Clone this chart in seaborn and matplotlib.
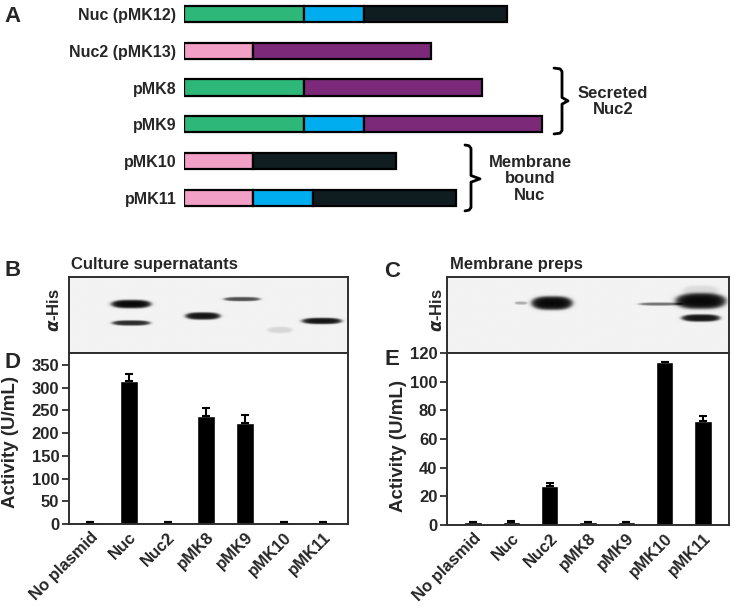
import numpy as np
import pandas as pd
import matplotlib
matplotlib.use("Agg")
import matplotlib.pyplot as plt
import seaborn as sns

# ---------------- data ----------------
# Panel A: construct maps (domain lengths in arbitrary units)
constructs = ["Nuc (pMK12)", "Nuc2 (pMK13)", "pMK8", "pMK9", "pMK10", "pMK11"]
construct_domains = [["ss", "pro", "nuc"], ["lipo", "nuc2"], ["ss", "nuc2"],
                     ["ss", "pro", "nuc2"], ["lipo", "nuc"], ["lipo", "pro", "nuc"]]
domain_names = ["ss", "pro", "nuc", "nuc2", "lipo"]
domain_lengths = [120, 60, 143, 178, 69]
domain_colors = ["#2db778", "#00aeef", "#0f1d20", "#7b2978", "#f2a0c6"]

group_labels = ["Secreted\nNuc2", "Membrane\nbound\nNuc"]
group_row_span = [(1.47, 2.36, 3.26), (3.56, 4.48, 5.35)]   # top, middle, bottom (rows)
group_brace_x = [(370, 378, 384), (281, 287, 296)]          # hook, spine, tip
group_text_pos = [(429, 2.38), (346, 4.48)]

# Panels D/E: activities
samples = ["No plasmid", "Nuc", "Nuc2", "pMK8", "pMK9", "pMK10", "pMK11"]
sup_activity = [5, 315, 5, 238, 223, 5, 5]
sup_err = [0, 14, 0, 17, 17, 0, 0]
mem_activity = [2.0, 2.3, 27.4, 2.2, 2.1, 113.5, 72.8]
mem_err = [0, 0.3, 1.6, 0, 0, 0.5, 3.5]

# Panels B/C: western blot bands (lane position, depth in blot px, half width, thickness, intensity)
sup_band_lane = [1.06, 1.06, 2.91, 3.92, 4.90, 5.98]
sup_band_y = [27, 46, 39, 22, 53, 44]
sup_band_hw = [0.50, 0.48, 0.44, 0.46, 0.32, 0.50]
sup_band_thick = [8, 5, 7, 4, 6, 6]
sup_band_int = [1.0, 0.85, 0.95, 0.7, 0.12, 0.95]

mem_band_lane = [1.25, 2.06, 4.88, 5.95, 5.95, 5.95]
mem_band_y = [26, 26, 27, 24, 13, 41]
mem_band_hw = [0.16, 0.52, 0.54, 0.64, 0.45, 0.49]
mem_band_thick = [3, 13, 3, 15, 9, 7]
mem_band_int = [0.3, 1.0, 0.55, 1.0, 0.1, 0.95]

# ---------------- style ----------------
sns.set_style("ticks")
plt.rcParams["font.family"] = ["Liberation Sans", "DejaVu Sans"]
plt.rcParams["font.weight"] = "bold"
plt.rcParams["axes.labelweight"] = "bold"

W, H = 734, 607
fig = plt.figure(figsize=(W / 100, H / 100), dpi=100)


def fpos(x0, y0, x1, y1):
    return [x0 / W, 1 - y1 / H, (x1 - x0) / W, (y1 - y0) / H]


def ftext(x, y, s, **kw):
    fig.text(x / W, 1 - y / H, s, **kw)


FRAME = "#2e2e2e"

# ---------------- Panel A ----------------
axA = fig.add_axes(fpos(184, 0, 734, 216.4))
dom_len = dict(zip(domain_names, domain_lengths))
dom_col = dict(zip(domain_names, domain_colors))
for r, doms in enumerate(construct_domains):
    left = 0
    for d in doms:
        axA.barh(r, dom_len[d], left=left, height=0.44, color=dom_col[d],
                 edgecolor="black", linewidth=1.6)
        left += dom_len[d]
axA.set_xlim(0, 550)
axA.set_ylim(5.5, -0.38)
axA.set_yticks(range(len(constructs)))
axA.set_yticklabels(constructs, fontsize=11.5, fontweight="bold")
axA.tick_params(axis="y", length=0, pad=5.5)
axA.set_xticks([])
for s in axA.spines.values():
    s.set_visible(False)
axA.patch.set_alpha(0)

for (top, mid, bot), (hx, vx, tx), lab, (lx, ly) in zip(group_row_span, group_brace_x,
                                                        group_labels, group_text_pos):
    d = 0.09
    xs = [hx, vx - 2, vx, vx, tx, vx, vx, vx - 2, hx]
    ys = [top, top + 0.02, top + d, mid - d, mid, mid + d, bot - d, bot - 0.02, bot]
    axA.plot(xs, ys, color="black", lw=2.0, solid_joinstyle="round", clip_on=False)
    axA.text(lx, ly, lab, ha="center", va="center", fontsize=12, fontweight="bold",
             linespacing=1.1)

ftext(4, 22, "A", fontsize=16, fontweight="bold")


# ---------------- blots ----------------
def draw_blot(ax, xlim, lanes, ys, hws, thicks, ints):
    xs = np.linspace(xlim[0], xlim[1], 700)
    yy = np.linspace(0, 76, 200)
    X, Y = np.meshgrid(xs, yy)
    dark = np.zeros_like(X)
    for c, yc, hw, t, a in zip(lanes, ys, hws, thicks, ints):
        dx = (X - c) / hw
        dy = (Y - yc) / (t / 2)
        dd = np.abs(dx) ** 3 + dy ** 2
        dark += a / (1 + np.exp((dd - 1) / 0.25))
    img = 0.95 - 0.93 * np.clip(dark, 0, 1)
    ax.imshow(img, cmap="gray", vmin=0, vmax=1, extent=[xlim[0], xlim[1], 76, 0],
              aspect="auto", interpolation="bilinear")
    ax.set_xlim(*xlim)
    ax.set_ylim(76, 0)
    ax.set_xticks([])
    ax.set_yticks([])
    for s in ax.spines.values():
        s.set_color(FRAME)
        s.set_linewidth(1.4)


xlimD = (-0.54, 6.65)
xlimE = (-0.68, 6.68)

axB = fig.add_axes(fpos(69, 277, 348, 353))
draw_blot(axB, xlimD, sup_band_lane, sup_band_y, sup_band_hw, sup_band_thick, sup_band_int)
axC = fig.add_axes(fpos(447, 277, 729, 353))
draw_blot(axC, xlimE, mem_band_lane, mem_band_y, mem_band_hw, mem_band_thick, mem_band_int)


# ---------------- bar charts ----------------
def draw_bars(ax, vals, errs, xlim, ylim, yticks, label_xy):
    df = pd.DataFrame({"sample": samples, "activity": vals})
    sns.barplot(data=df, x="sample", y="activity", order=samples, color="black",
                saturation=1, width=0.46, errorbar=None, ax=ax)
    ax.errorbar(np.arange(len(samples)), vals, yerr=[np.zeros(len(errs)), errs],
                fmt="none", ecolor="black", elinewidth=1.5, capsize=2.9, capthick=1.5)
    ax.set_xlim(*xlim)
    ax.set_ylim(*ylim)
    ax.set_yticks(yticks)
    ax.set_yticklabels([str(t) for t in yticks], fontsize=12, fontweight="bold")
    ax.set_xticks(range(len(samples)))
    ax.set_xticklabels(samples, rotation=45, ha="right", rotation_mode="anchor",
                       fontsize=12, fontweight="bold")
    ax.tick_params(axis="x", length=0, pad=4)
    ax.tick_params(axis="y", length=5, width=1.3, pad=2, color=FRAME)
    ax.set_xlabel("")
    ax.set_ylabel("Activity (U/mL)", fontsize=13.5, fontweight="bold")
    ax.yaxis.set_label_coords(*label_xy)
    for s in ax.spines.values():
        s.set_visible(True)
        s.set_color(FRAME)
        s.set_linewidth(1.4)


axD = fig.add_axes(fpos(69, 353, 348, 524))
draw_bars(axD, sup_activity, sup_err, xlimD, (0, 376), list(range(0, 351, 50)), (-0.179, 0.48))
axE = fig.add_axes(fpos(447, 353, 729, 525))
draw_bars(axE, mem_activity, mem_err, xlimE, (0, 120), list(range(0, 121, 20)), (-0.142, 0.46))

# ---------------- panel labels & titles ----------------
ftext(4, 276, "B", fontsize=16, fontweight="bold")
ftext(384, 277, "C", fontsize=16, fontweight="bold")
ftext(4, 368, "D", fontsize=16, fontweight="bold")
ftext(385, 365, "E", fontsize=16, fontweight="bold")
ftext(71, 269, "Culture supernatants", fontsize=12, fontweight="bold")
ftext(450, 269, "Membrane preps", fontsize=12, fontweight="bold")
ftext(54, 310, r"$\alpha$-His", fontsize=12, fontweight="bold", rotation=90,
      ha="center", va="center")
ftext(437, 310, r"$\alpha$-His", fontsize=12, fontweight="bold", rotation=90,
      ha="center", va="center")

fig.savefig("out.png", dpi=100)
